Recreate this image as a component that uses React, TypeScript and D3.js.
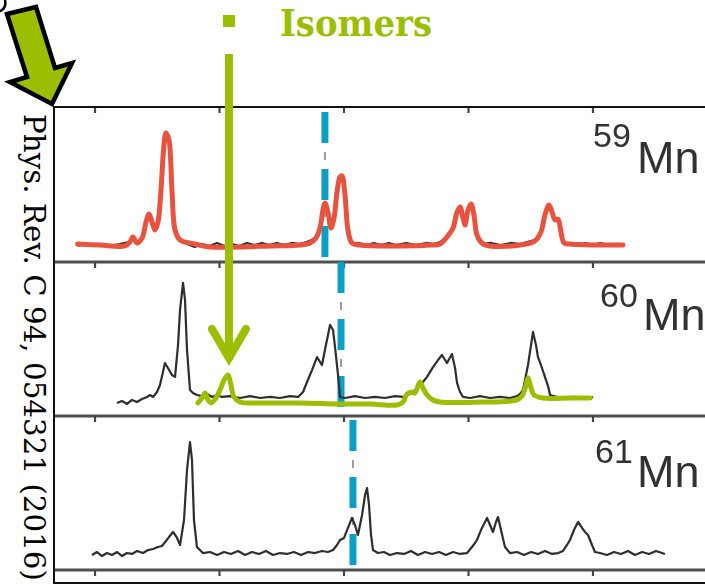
import React from 'react';
import * as d3 from 'd3';

const W = 705;
const H = 585;

// x ticks (arbitrary channel units)
const tickValues = [100, 200, 300, 400, 500, 600];
const massNumbers = ['59', '60', '61'];
// position of the dashed reference line in each panel (channel units)
const refLineX = [284.7, 297.6, 307.2];
// isomer arrow position
const isomerArrowX = 207.6;
const isomerArrowTipY = 39.2;

// 59Mn fit (red)
const fit59: [number, number][] = [
  [86, 10], [104, 9.2], [124, 8.5], [128, 11.5], [130.5, 15.4], [133.7, 10.8], [137.8, 14.6],
  [141, 26.9], [143.4, 33.1], [145.8, 26.9], [148.2, 20.8], [150.6, 26.9], [153, 51.5],
  [155.4, 86.2], [157, 95.4], [159.4, 90], [161.8, 51.5], [164.3, 20.8], [168.3, 13.1],
  [180.3, 10], [192.4, 7.7], [216.5, 7.7], [240.6, 8.5], [264.7, 9.2], [272.7, 10.8],
  [277.5, 14.6], [280.7, 22.3], [283.1, 36.2], [284.7, 41.5], [287.1, 34.6], [289.6, 22.3],
  [292, 30], [294.4, 50], [296.8, 61.5], [298.4, 62.3], [300.8, 47.7], [303.2, 20.8],
  [306.4, 10.8], [312.9, 9.2], [345, 8.5], [369.1, 9.2], [377.1, 10], [382.7, 15.4],
  [387.6, 22.3], [390.8, 34.6], [393.2, 38.5], [395.6, 30], [397.2, 24.6], [399.6, 36.2],
  [402, 40.8], [404.4, 32.3], [406.8, 16.9], [410.8, 10.8], [417.3, 8.5], [441.4, 9.2],
  [453.4, 12.3], [458.2, 19.2], [461.4, 32.3], [464.7, 40], [467.1, 34.6], [469.5, 28.5],
  [471.9, 29.2], [474.3, 19.2], [476.7, 10.8], [481.5, 10], [505.6, 9.2], [524.1, 9.2],
];

// 59Mn measured spectrum (grey, mostly hidden under the fit)
const data59: [number, number][] = [
  [86, 8.5], [92, 10], [98, 8.5], [104, 10], [112, 8.5], [120, 10], [127, 11.5],
  [130.5, 14.6], [133.7, 10], [137.8, 14.6], [141, 26.9], [143.4, 33.1], [145.8, 26.9],
  [148.2, 20.8], [150.6, 26.9], [153, 51.5], [155.4, 86.2], [157, 95.4], [159.4, 90],
  [161.8, 51.5], [164.3, 20.8], [168.3, 12.3], [174, 10], [180, 7.7], [186, 10], [192, 8.5],
  [198, 10.8], [204, 8.5], [210, 10], [216, 8.5], [222, 10.8], [228, 9.2], [234, 10.8],
  [240, 9.2], [246, 10.8], [252, 9.2], [258, 10.8], [264, 10], [270, 11.5], [274, 13.1],
  [277.5, 15.4], [280.7, 22.3], [283.1, 36.2], [284.7, 41.5], [287.1, 34.6], [289.6, 22.3],
  [292, 30], [294.4, 50], [296.8, 61.5], [298.4, 62.3], [300.8, 47.7], [303.2, 20.8],
  [306.4, 10], [312, 10.8], [318, 9.2], [324, 10.8], [330, 9.2], [336, 10.8], [342, 9.2],
  [350, 10.8], [358, 9.2], [366, 10.8], [372, 10], [377.1, 11.5], [382.7, 15.4],
  [387.6, 22.3], [390.8, 34.6], [393.2, 38.5], [395.6, 30], [397.2, 24.6], [399.6, 36.2],
  [402, 40.8], [404.4, 32.3], [406.8, 16.9], [410.8, 10], [418, 10.8], [426, 9.2],
  [434, 10.8], [441.4, 10], [447, 11.5], [453.4, 13.1], [458.2, 19.2], [461.4, 32.3],
  [464.7, 40], [467.1, 34.6], [469.5, 28.5], [471.9, 29.2], [474.3, 19.2], [476.7, 10],
  [482, 10.8], [488, 9.2], [494, 10.8], [500, 9.2], [506, 10.8], [512, 9.2], [518, 10],
];

// 60Mn measured spectrum (grey)
const data60: [number, number][] = [
  [117.7, 6.2], [121.7, 7.7], [125.7, 5.4], [129.7, 8.5], [133.7, 6.9], [137.8, 9.2],
  [141.8, 10.8], [144.2, 12.3], [146.6, 10.8], [149.8, 14.6], [152.2, 20], [154.6, 30],
  [156.2, 36.9], [158.6, 33.1], [161.8, 27.7], [164.3, 26.2], [166.7, 50.8], [168.3, 77.7],
  [170.7, 98.5], [172.3, 85.4], [173.9, 46.9], [176.3, 16.2], [178.7, 13.8], [181.9, 12.3],
  [185.9, 11.5], [190, 13.1], [194, 10.8], [198, 12.3], [202, 10.8], [208.4, 11.5],
  [216.5, 10], [224.5, 11.5], [232.5, 10], [240.6, 10.8], [248.6, 10], [256.6, 11.5],
  [263.1, 10.8], [267.1, 14.6], [270.3, 22.3], [274.3, 31.5], [278.3, 41.5], [282.3, 35.4],
  [285.5, 50.8], [288.8, 66.2], [291.2, 62.3], [292.8, 49.2], [295.2, 27.7], [296.8, 10.8],
  [300.8, 10], [308.8, 11.5], [316.9, 10], [324.9, 10.8], [332.9, 10], [341, 11.5],
  [347.4, 10.8], [353, 13.1], [359.4, 17.7], [366.7, 26.2], [371.5, 33.8], [375.5, 39.2],
  [378.7, 43.1], [382.7, 36.9], [386.7, 43.8], [389.2, 33.1], [390.8, 21.5], [393.2, 14.6],
  [395.6, 10.8], [401.2, 10], [409.2, 11.5], [417.3, 10], [425.3, 10.8], [433.3, 10],
  [439, 11.5], [441.4, 13.1], [443.8, 16.2], [447.8, 35.4], [451.8, 60.8], [454.2, 50.8],
  [455.8, 41.5], [458.2, 35.4], [461.4, 26.2], [463.9, 19.2], [465.5, 12.3], [471.1, 10.8],
  [477.5, 10], [485.5, 10.8], [493.6, 9.2], [500, 10.8],
];

// 60Mn isomer fit (green)
const isomer60: [number, number][] = [
  [182.7, 6.2], [185.9, 10], [188.4, 13.8], [190.8, 8.5], [193.2, 6.2], [197.2, 10],
  [200.4, 16.2], [203.6, 23.8], [206.8, 27.7], [209.2, 20], [211.6, 10.8], [216.5, 6.9],
  [232.5, 6.2], [264.7, 6.2], [296.8, 5.4], [320.9, 5.4], [342.6, 4.6], [347.4, 6.9],
  [350.6, 13.1], [354.6, 14.6], [357, 13.8], [361, 22.3], [363.5, 17.7], [366.7, 12.3],
  [371.5, 8.5], [377.1, 6.9], [409.2, 6.9], [439, 8.5], [443, 11.5], [446.2, 20],
  [447.8, 25.4], [450.2, 17.7], [452.6, 12.3], [459.8, 10], [481.5, 10], [497.6, 10],
];

// 61Mn measured spectrum (grey)
const data61: [number, number][] = [
  [97.6, 7.7], [101.6, 10], [105.6, 6.9], [109.6, 9.2], [113.7, 7.7], [117.7, 10],
  [121.7, 6.9], [125.7, 9.2], [129.7, 8.5], [133.7, 10.8], [138.6, 9.2], [142.6, 11.5],
  [146.6, 12.3], [150.6, 13.8], [153.8, 14.6], [157, 18.5], [159.4, 21.5], [162.7, 25.4],
  [165.9, 20.8], [168.3, 15.4], [171.5, 34.6], [173.9, 73.1], [176.3, 94.6], [177.9, 80.8],
  [179.5, 34.6], [181.9, 13.8], [186.7, 9.2], [192.4, 10], [198, 7.7], [203.6, 10],
  [209.2, 8.5], [214.9, 10.8], [220.5, 7.7], [226.1, 10], [231.7, 8.5], [237.3, 10.8],
  [243, 7.7], [248.6, 9.2], [254.2, 8.5], [259.8, 10], [265.5, 7.7], [271.1, 10],
  [276.7, 9.2], [282.3, 10.8], [287.1, 10], [291.2, 11.5], [294.4, 15.4], [296.8, 19.2],
  [300, 20.8], [303.2, 28.5], [306.4, 36.2], [308.8, 30.8], [311.2, 23.1], [314.5, 38.5],
  [316.9, 53.8], [318.5, 59.2], [320.1, 46.2], [321.7, 23.1], [323.3, 11.5], [327.3, 9.2],
  [332.1, 10], [336.9, 7.7], [342.6, 9.2], [348.2, 8.5], [353.8, 10.8], [359.4, 7.7],
  [365.1, 10], [370.7, 8.5], [376.3, 10], [381.9, 7.7], [387.6, 10], [393.2, 8.5],
  [398.8, 9.2], [402.8, 13.8], [406.8, 19.2], [410.8, 28.5], [414.9, 36.2], [417.3, 30.8],
  [419.7, 25.4], [422.1, 33.1], [423.7, 36.9], [426.1, 26.9], [429.3, 13.8], [433.3, 9.2],
  [439, 10], [444.6, 7.7], [450.2, 10], [455.8, 8.5], [461.4, 10.8], [467.1, 8.5],
  [471.9, 9.2], [475.9, 10.8], [479.1, 15.4], [481.5, 19.2], [484.7, 26.9], [488, 33.1],
  [491.2, 28.5], [493.6, 25.4], [496, 23.1], [499.2, 15.4], [501.6, 10], [505.6, 9.2],
  [511.2, 7.7], [516.9, 10], [522.5, 8.5], [528.1, 10.8], [533.7, 7.7], [539.4, 10],
  [545, 8.5], [550.6, 10.8], [557.8, 8.5],
];

const GREEN = '#9bbf00';
const BLUE = '#0b9fc6';
const RED = '#e8533f';
const DARK = '#2e2e2e';

export default function App() {
  const x = d3.scaleLinear().domain([100, 600]).range([95, 717.5]);
  const panelBottoms = [262, 416, 570];
  const yScales = panelBottoms.map((b) =>
    d3.scaleLinear().domain([0, 100]).range([b - 5, b - 135])
  );
  const lineFor = (i: number, curve: any) =>
    d3
      .line<[number, number]>()
      .x((d) => x(d[0]))
      .y((d) => yScales[i](d[1]))
      .curve(curve);

  const redPath = lineFor(0, d3.curveCatmullRom.alpha(0.5))(fit59) || '';
  const grey59 = lineFor(0, d3.curveLinear)(data59) || '';
  const grey60 = lineFor(1, d3.curveLinear)(data60) || '';
  const green60 = lineFor(1, d3.curveCatmullRom.alpha(0.5))(isomer60) || '';
  const grey61 = lineFor(2, d3.curveLinear)(data61) || '';

  const axisYs = [107, 262, 416, 570];
  const dashStarts = [112, 262, 420];
  const labelLayout = [
    { sx: 593, sy: 147, mx: 637, my: 173 },
    { sx: 600, sy: 307, mx: 643, my: 330 },
    { sx: 595, sy: 463, mx: 637, my: 487 },
  ];

  const arrowX = x(isomerArrowX);
  const arrowTip = yScales[1](isomerArrowTipY);

  return (
    <div style={{ position: 'absolute', left: 0, top: 0 }}>
      <svg width={W} height={H} style={{ display: 'block', background: '#fff' }}>
        <defs>
          <filter id="soft" filterUnits="userSpaceOnUse" x={0} y={0} width={W} height={H}>
            <feGaussianBlur stdDeviation="0.5" />
          </filter>
        </defs>
        {/* axis lines */}
        <g filter="url(#soft)">
          {axisYs.slice(1).map((yy, i) => (
            <line key={'ax' + i} x1={54} x2={W} y1={yy} y2={yy} stroke="#505050" strokeWidth={3} />
          ))}
          {axisYs.map((yy, i) =>
            tickValues.map((t) => (
              <line key={'t' + i + '-' + t} x1={x(t)} x2={x(t)} y1={yy} y2={yy + 6} stroke="#444" strokeWidth={2.2} />
            ))
          )}
        </g>
        {/* frame */}
        <line x1={54} x2={W} y1={107} y2={107} stroke="#111" strokeWidth={2} />
        <line x1={54} x2={54} y1={106} y2={584} stroke="#111" strokeWidth={2} />
        <line x1={54} x2={W} y1={583} y2={583} stroke="#111" strokeWidth={2} />

        {/* reference dashed lines */}
        {refLineX.map((v, i) => {
          const s = dashStarts[i];
          return (
            <g key={'ref' + i}>
              <line x1={x(v)} x2={x(v)} y1={s + 40} y2={s + 48} stroke="#999" strokeWidth={2} />
              <line x1={x(v)} x2={x(v)} y1={s + 97} y2={s + 105} stroke="#999" strokeWidth={2} />
              <line
                x1={x(v)} x2={x(v)} y1={s} y2={s + 145}
                stroke={BLUE} strokeWidth={7} strokeDasharray="31 26"
              />
            </g>
          );
        })}

        {/* spectra */}
        <g filter="url(#soft)">
          <path d={grey59} fill="none" stroke={DARK} strokeWidth={2.2} strokeLinejoin="round" />
          <path d={grey60} fill="none" stroke={DARK} strokeWidth={2.2} strokeLinejoin="round" />
          <path d={grey61} fill="none" stroke={DARK} strokeWidth={2.2} strokeLinejoin="round" />
        </g>
        <path d={redPath} fill="none" stroke={RED} strokeWidth={5} strokeLinejoin="round" strokeLinecap="round" />
        <path d={green60} fill="none" stroke={GREEN} strokeWidth={5} strokeLinejoin="round" strokeLinecap="round" />

        {/* panel labels */}
        {massNumbers.map((m, i) => (
          <g key={'lab' + i} fill="#333" fontFamily="'Liberation Sans', Arial, sans-serif" filter="url(#soft)">
            <text x={labelLayout[i].sx} y={labelLayout[i].sy} fontSize={34}>{m}</text>
            <text x={labelLayout[i].mx} y={labelLayout[i].my} fontSize={45}>Mn</text>
          </g>
        ))}

        {/* isomer annotation */}
        <rect x={arrowX - 6} y={15} width={12} height={12} fill={GREEN} />
        <line x1={arrowX} x2={arrowX} y1={54} y2={arrowTip} stroke={GREEN} strokeWidth={8} />
        <polyline
          points={`${arrowX - 17},${arrowTip - 31} ${arrowX},${arrowTip - 2} ${arrowX + 17},${arrowTip - 31}`}
          fill="none" stroke={GREEN} strokeWidth={8} strokeLinecap="round" strokeLinejoin="miter"
        />
        <text x={280} y={36} fontFamily="'DejaVu Serif', serif" fontWeight="bold"
          fontSize={37} fill={GREEN} textLength={152} lengthAdjust="spacingAndGlyphs">Isomers</text>

        {/* big pointer arrow top-left */}
        <polygon
          points="7,14 36,7 55,68 72,63 52,104 10,82 27,77"
          fill={GREEN} stroke="#000" strokeWidth={4.5} strokeLinejoin="miter"
        />
        <path d="M -2 12 Q 7 9 5 0" fill="none" stroke="#000" strokeWidth={2.5} />

        {/* citation */}
        <text
          transform="translate(24,114) rotate(90)"
          fontFamily="'DejaVu Serif', serif" fontSize={29} fill="#000"
          textLength={467} lengthAdjust="spacingAndGlyphs"
        >Phys. Rev. C 94, 054321 (2016)</text>
      </svg>
    </div>
  );
}
